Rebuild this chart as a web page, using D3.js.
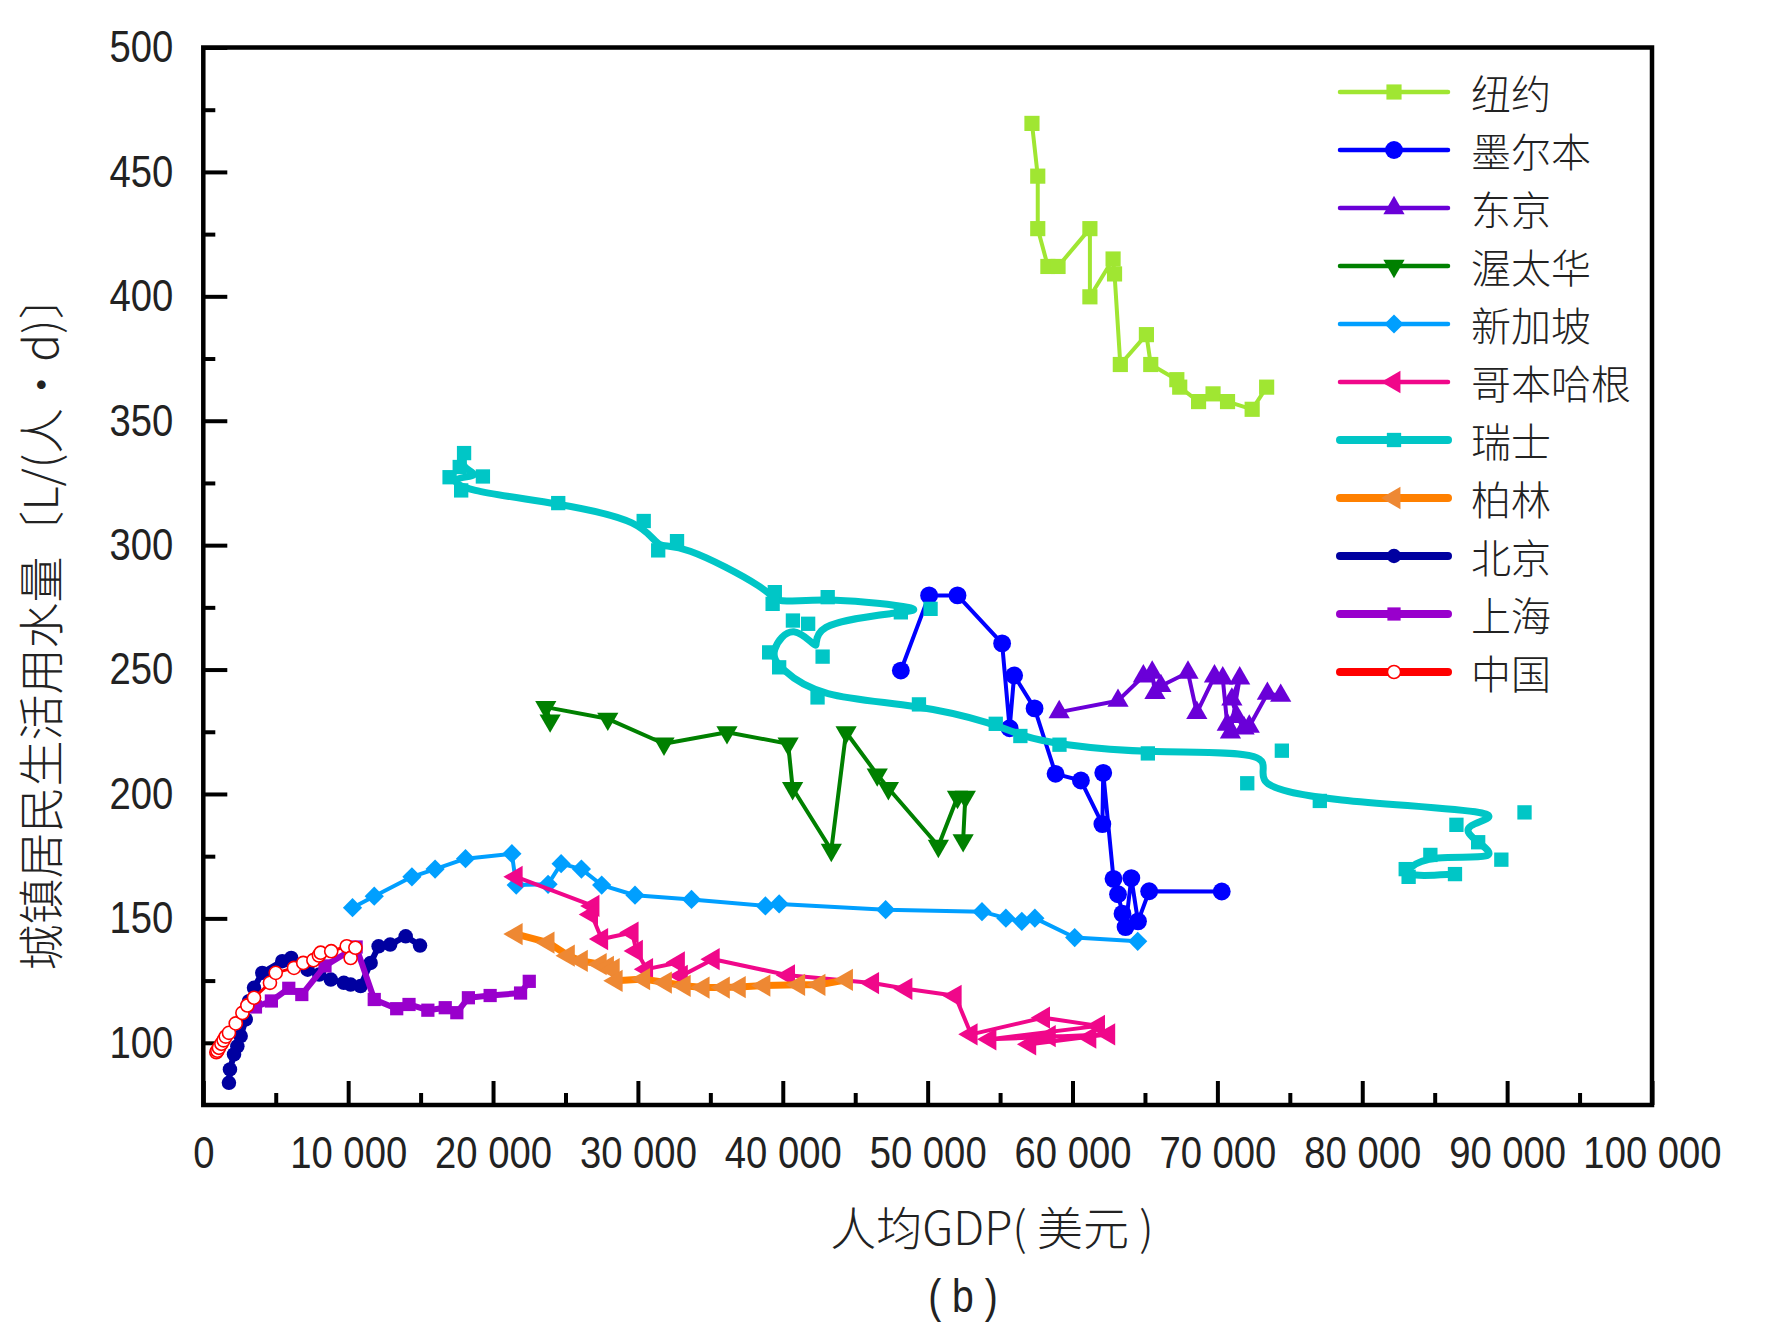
<!DOCTYPE html>
<html>
<head>
<meta charset="utf-8">
<script src="https://cdn.jsdelivr.net/npm/d3@7"></script>
<style>
  body { margin: 0; background: #fff; }
  svg text { font-family: "Liberation Sans", Arial, sans-serif; fill: #222; }
  svg text.cjk { font-family: "Noto Sans CJK SC", sans-serif; }
</style>
</head>
<body>
<svg id="chart"></svg>
<script>
// [GDP per capita (USD), domestic water use (L per person per day)]
const newYork = [[57200,469.5],[57600,448.3],[57600,427.2],[58300,412],[59000,412],[61200,427.2],[61200,399.8],[62800,415],[62900,409],[63300,372.6],[65100,384.6],[65400,372.6],[67200,366.5],[67400,363.5],[68700,357.7],[69700,360.8],[70700,357.7],[72400,354.6],[73400,363.5]];
const melbourne = [[48150,249.6],[50100,279.8],[52060,279.8],[55140,260.5],[55660,226.4],[55970,247.6],[57380,234.4],[58830,208.1],[60580,205.4],[62060,187.9],[62120,208.5],[62830,165.9],[63140,159.7],[63450,151.9],[63660,146.5],[64060,166.2],[64520,148.8],[65290,160.9],[70300,160.8]];
const tokyo = [[59080,232.9],[63140,237.5],[64890,247.3],[65500,248.8],[65690,240.6],[66100,243.4],[67970,248.8],[68580,232.6],[69800,247.3],[70370,246.5],[70680,227.9],[70900,224.8],[71540,246.5],[71000,238],[71350,231],[71840,226.4],[72200,227.1],[73450,240.3],[74370,239.5]];
const ottawa = [[23940,229.5],[23640,234.9],[27920,230.2],[31800,220.2],[36150,224.8],[40370,220.2],[40680,202.3],[43350,177.5],[44370,224.8],[46520,207.8],[47290,202.3],[50740,179.1],[52060,198.8],[52600,198.8],[52450,181.4]];
const singapore = [[10300,154.3],[11800,158.9],[14400,166.7],[16000,169.8],[18100,174],[21300,176],[21600,163.4],[23800,163.7],[24700,172],[26100,169.8],[27500,163.4],[29800,159.3],[33700,157.6],[38800,155],[39750,155.8],[47100,153.5],[53750,152.7],[55400,150.1],[56500,148.8],[57400,150.1],[60150,142.3],[64500,140.8]];
const copenhagen = [[21600,166.7],[26900,155],[26800,151.6],[27500,141.7],[29600,144.3],[29900,136.9],[30600,129.6],[32800,132.3],[33000,126.9],[35200,133.6],[40400,127.1],[46200,124],[48500,121.7],[51900,118.9],[53000,103.4],[58000,110.1],[61800,106.8],[54300,101.4],[62500,103.4],[57050,99.4],[58400,102.7],[61200,102.1]];
const switzerland = [[18000,337.0],[17700,331.4],[19300,327.6],[17000,327.3],[17800,322.0],[24500,316.9],[30400,309.7],[31400,297.9],[32700,301.6],[39450,281.1],[39300,276.4],[43100,279.1],[50200,274.4],[48150,273.0],[41750,268.4],[42750,255.2],[40700,269.7],[39060,256.9],[39750,250.9],[42400,238.8],[49400,236.0],[54700,228.2],[56400,223.3],[59100,219.8],[65200,216.3],[74450,217.4],[72060,204.3],[77070,197.2],[91200,192.6],[86500,187.6],[88000,180.6],[89600,173.6],[84700,175.5],[83000,169.8],[83200,166.7],[86400,167.8]];
const berlin = [[21600,143.7],[23800,140.3],[25200,135.0],[26100,132.9],[27400,131.6],[27900,130.5],[28300,129.6],[28500,124.9],[30400,125.6],[31900,124.2],[33200,122.9],[34500,122.2],[35900,122.2],[37000,122.4],[38700,123.0],[41100,123.3],[42500,123.3],[44400,125.3]];
const beijing = [[1770,83.9],[1840,89.3],[2120,95.3],[2350,98.6],[2580,102.7],[2930,109.4],[3150,116.7],[3500,122.1],[4070,128.1],[5450,132.8],[6070,134.1],[7200,129.4],[8000,127.4],[8800,125.4],[9700,124.1],[10170,123.4],[10860,122.8],[11550,132.1],[12100,138.8],[12900,139.5],[13970,142.8],[14960,139.1]];
const shanghai = [[3600,114.4],[4700,116.8],[5900,121.9],[6800,119.4],[8400,130.9],[10550,138.5],[11800,117.4],[13350,113.7],[14200,115.4],[15500,113.1],[16700,114.1],[17500,112.1],[18300,118.1],[19800,119.0],[21900,120.0],[22500,124.7]];
const china = [[900,96.2],[970,96.8],[1080,98],[1250,99.6],[1400,101],[1550,102.5],[1770,104],[2240,107.8],[2700,112],[3040,115],[3500,118.1],[4600,124.1],[5000,128.1],[6260,130.1],[6900,132.1],[7600,133.2],[7980,135.1],[8100,136.2],[8830,136.8],[9900,138.8],[10170,134.1],[10500,138.2]];

const cityNames = ["纽约", "墨尔本", "东京", "渥太华", "新加坡", "哥本哈根", "瑞士", "柏林", "北京", "上海", "中国"];
const xTicks = d3.range(0, 100001, 10000);
const xMinor = d3.range(5000, 100000, 10000);
const yTicks = d3.range(100, 501, 50);
const yMinor = d3.range(125, 500, 50);

const xTitle = "人均GDP( 美元 )";
const yTitle = "城镇居民生活用水量〔L/(人•d)〕";
const subTitle = "( b )";

// square turned 45deg (Origin style diamond)
const symbolRhomb = {
  draw(ctx, size) {
    const r = Math.sqrt(size / 2);
    ctx.moveTo(0, -r);
    ctx.lineTo(r, 0);
    ctx.lineTo(0, r);
    ctx.lineTo(-r, 0);
    ctx.closePath();
  }
};

// styles for each series, same order as cityNames
const series = [
  { data: newYork,     color: "#a0e632", shape: d3.symbolSquare,   rot: 0,   size: 230, lw: 4 },
  { data: melbourne,   color: "#0000ff", shape: d3.symbolCircle,   rot: 0,   size: 250, lw: 4 },
  { data: tokyo,       color: "#6a00d8", shape: d3.symbolTriangle, rot: 0,   size: 195, lw: 4 },
  { data: ottawa,      color: "#008000", shape: d3.symbolTriangle, rot: 180, size: 195, lw: 4 },
  { data: singapore,   color: "#009fff", shape: symbolRhomb,       rot: 0,   size: 185, lw: 4 },
  { data: copenhagen,  color: "#f0078a", shape: d3.symbolTriangle, rot: -90, size: 215, lw: 4 },
  { data: switzerland, color: "#00c6c6", shape: d3.symbolSquare,   rot: 0,   size: 205, lw: 7, smooth: true },
  { data: berlin,      color: "#ff8000", fill: "#ee8833", shape: d3.symbolTriangle, rot: -90, size: 215, lw: 7 },
  { data: beijing,     color: "#0000a0", shape: d3.symbolCircle,   rot: 0,   size: 165, lw: 6 },
  { data: shanghai,    color: "#9900cc", shape: d3.symbolSquare,   rot: 0,   size: 175, lw: 6 },
  { data: china,       color: "#ff0000", fill: "#fff", shape: d3.symbolCircle, rot: 0, size: 135, lw: 3, open: true }
];

const W = 1766, H = 1340;
const margin = { top: 47.5, right: 114, bottom: 235, left: 203.3 };
const width = W - margin.left - margin.right;
const height = H - margin.top - margin.bottom;

const svg = d3.select("#chart").attr("width", W).attr("height", H);
const g = svg.append("g").attr("transform", `translate(${margin.left},${margin.top})`);

const x = d3.scaleLinear().domain([0, 100000]).range([0, width]);
const y = d3.scaleLinear().domain([75, 500]).range([height, 0]);

const fmt = d3.formatLocale({ decimal: ".", thousands: " ", grouping: [3], currency: ["", ""] }).format(",d");

// squeeze latin labels a bit, the original uses a narrow face
function narrow(sel, k = 0.85) {
  sel.each(function () {
    const w = this.getComputedTextLength();
    d3.select(this).attr("textLength", w * k).attr("lengthAdjust", "spacingAndGlyphs");
  });
}

function styleAxis(a) {
  a.select(".domain").remove();
  a.selectAll(".tick line").attr("stroke", "#000").attr("stroke-width", 4);
  a.selectAll(".tick text").attr("font-size", 45).attr("fill", "#222")
    .style("font-family", '"Liberation Sans", Arial, sans-serif');
}

// axes, ticks point inward
const gx = g.append("g").attr("transform", `translate(0,${height})`)
  .call(d3.axisBottom(x).tickValues(xTicks).tickFormat(fmt).tickSize(-24).tickSizeOuter(0).tickPadding(31));
styleAxis(gx);
narrow(gx.selectAll(".tick text"));
const gxm = g.append("g").attr("transform", `translate(0,${height})`)
  .call(d3.axisBottom(x).tickValues(xMinor).tickFormat("").tickSize(-12).tickSizeOuter(0));
styleAxis(gxm);

const gy = g.append("g")
  .call(d3.axisLeft(y).tickValues(yTicks).tickSize(-24).tickSizeOuter(0).tickPadding(30));
styleAxis(gy);
narrow(gy.selectAll(".tick text"));
const gym = g.append("g")
  .call(d3.axisLeft(y).tickValues(yMinor).tickFormat("").tickSize(-12).tickSizeOuter(0));
styleAxis(gym);

// series
series.forEach(s => {
  const line = d3.line()
    .x(d => x(d[0]))
    .y(d => y(d[1]))
    .curve(s.smooth ? d3.curveBasis : d3.curveLinear);

  g.append("path")
    .datum(s.data)
    .attr("d", line)
    .attr("fill", "none")
    .attr("stroke", s.color)
    .attr("stroke-width", s.lw)
    .attr("stroke-linejoin", "round");

  g.append("g").selectAll("path")
    .data(s.data)
    .join("path")
    .attr("transform", d => `translate(${x(d[0])},${y(d[1])}) rotate(${s.rot})`)
    .attr("d", d3.symbol(s.shape, s.size))
    .attr("fill", s.fill || s.color)
    .attr("stroke", s.open ? s.color : "none")
    .attr("stroke-width", s.open ? 1.6 : 0);
});

// frame
g.append("rect")
  .attr("width", width).attr("height", height)
  .attr("fill", "none").attr("stroke", "#000").attr("stroke-width", 4.5);

// legend
const legend = svg.append("g");
cityNames.forEach((name, i) => {
  const s = series[i];
  const ly = 92 + i * 58;
  const thick = s.lw >= 6 || s.open;
  legend.append("line")
    .attr("x1", 1340).attr("x2", 1448).attr("y1", ly).attr("y2", ly)
    .attr("stroke", s.color).attr("stroke-width", thick ? 8 : 4.5)
    .attr("stroke-linecap", "round");
  legend.append("path")
    .attr("transform", `translate(1394,${ly}) rotate(${s.rot})`)
    .attr("d", d3.symbol(s.shape, s.size))
    .attr("fill", s.fill || s.color)
    .attr("stroke", s.open ? s.color : "none")
    .attr("stroke-width", s.open ? 1.6 : 0);
  legend.append("text")
    .attr("class", "cjk")
    .attr("x", 1471).attr("y", ly)
    .attr("dominant-baseline", "central")
    .attr("font-size", 40)
    .attr("font-weight", 300)
    .text(name);
});

// titles
svg.append("text")
  .attr("class", "cjk")
  .attr("x", 992).attr("y", 1225)
  .attr("text-anchor", "middle").attr("dominant-baseline", "central")
  .attr("font-size", 46)
  .attr("font-weight", 300)
  .text(xTitle);

svg.append("text")
  .attr("class", "cjk")
  .attr("transform", "translate(38,622) rotate(-90)")
  .attr("text-anchor", "middle").attr("dominant-baseline", "central")
  .attr("font-size", 46)
  .attr("font-weight", 300)
  .text(yTitle);

svg.append("text")
  .attr("x", 963).attr("y", 1296)
  .attr("text-anchor", "middle").attr("dominant-baseline", "central")
  .attr("font-size", 46)
  .text(subTitle)
  .call(narrow);
</script>
</body>
</html>
